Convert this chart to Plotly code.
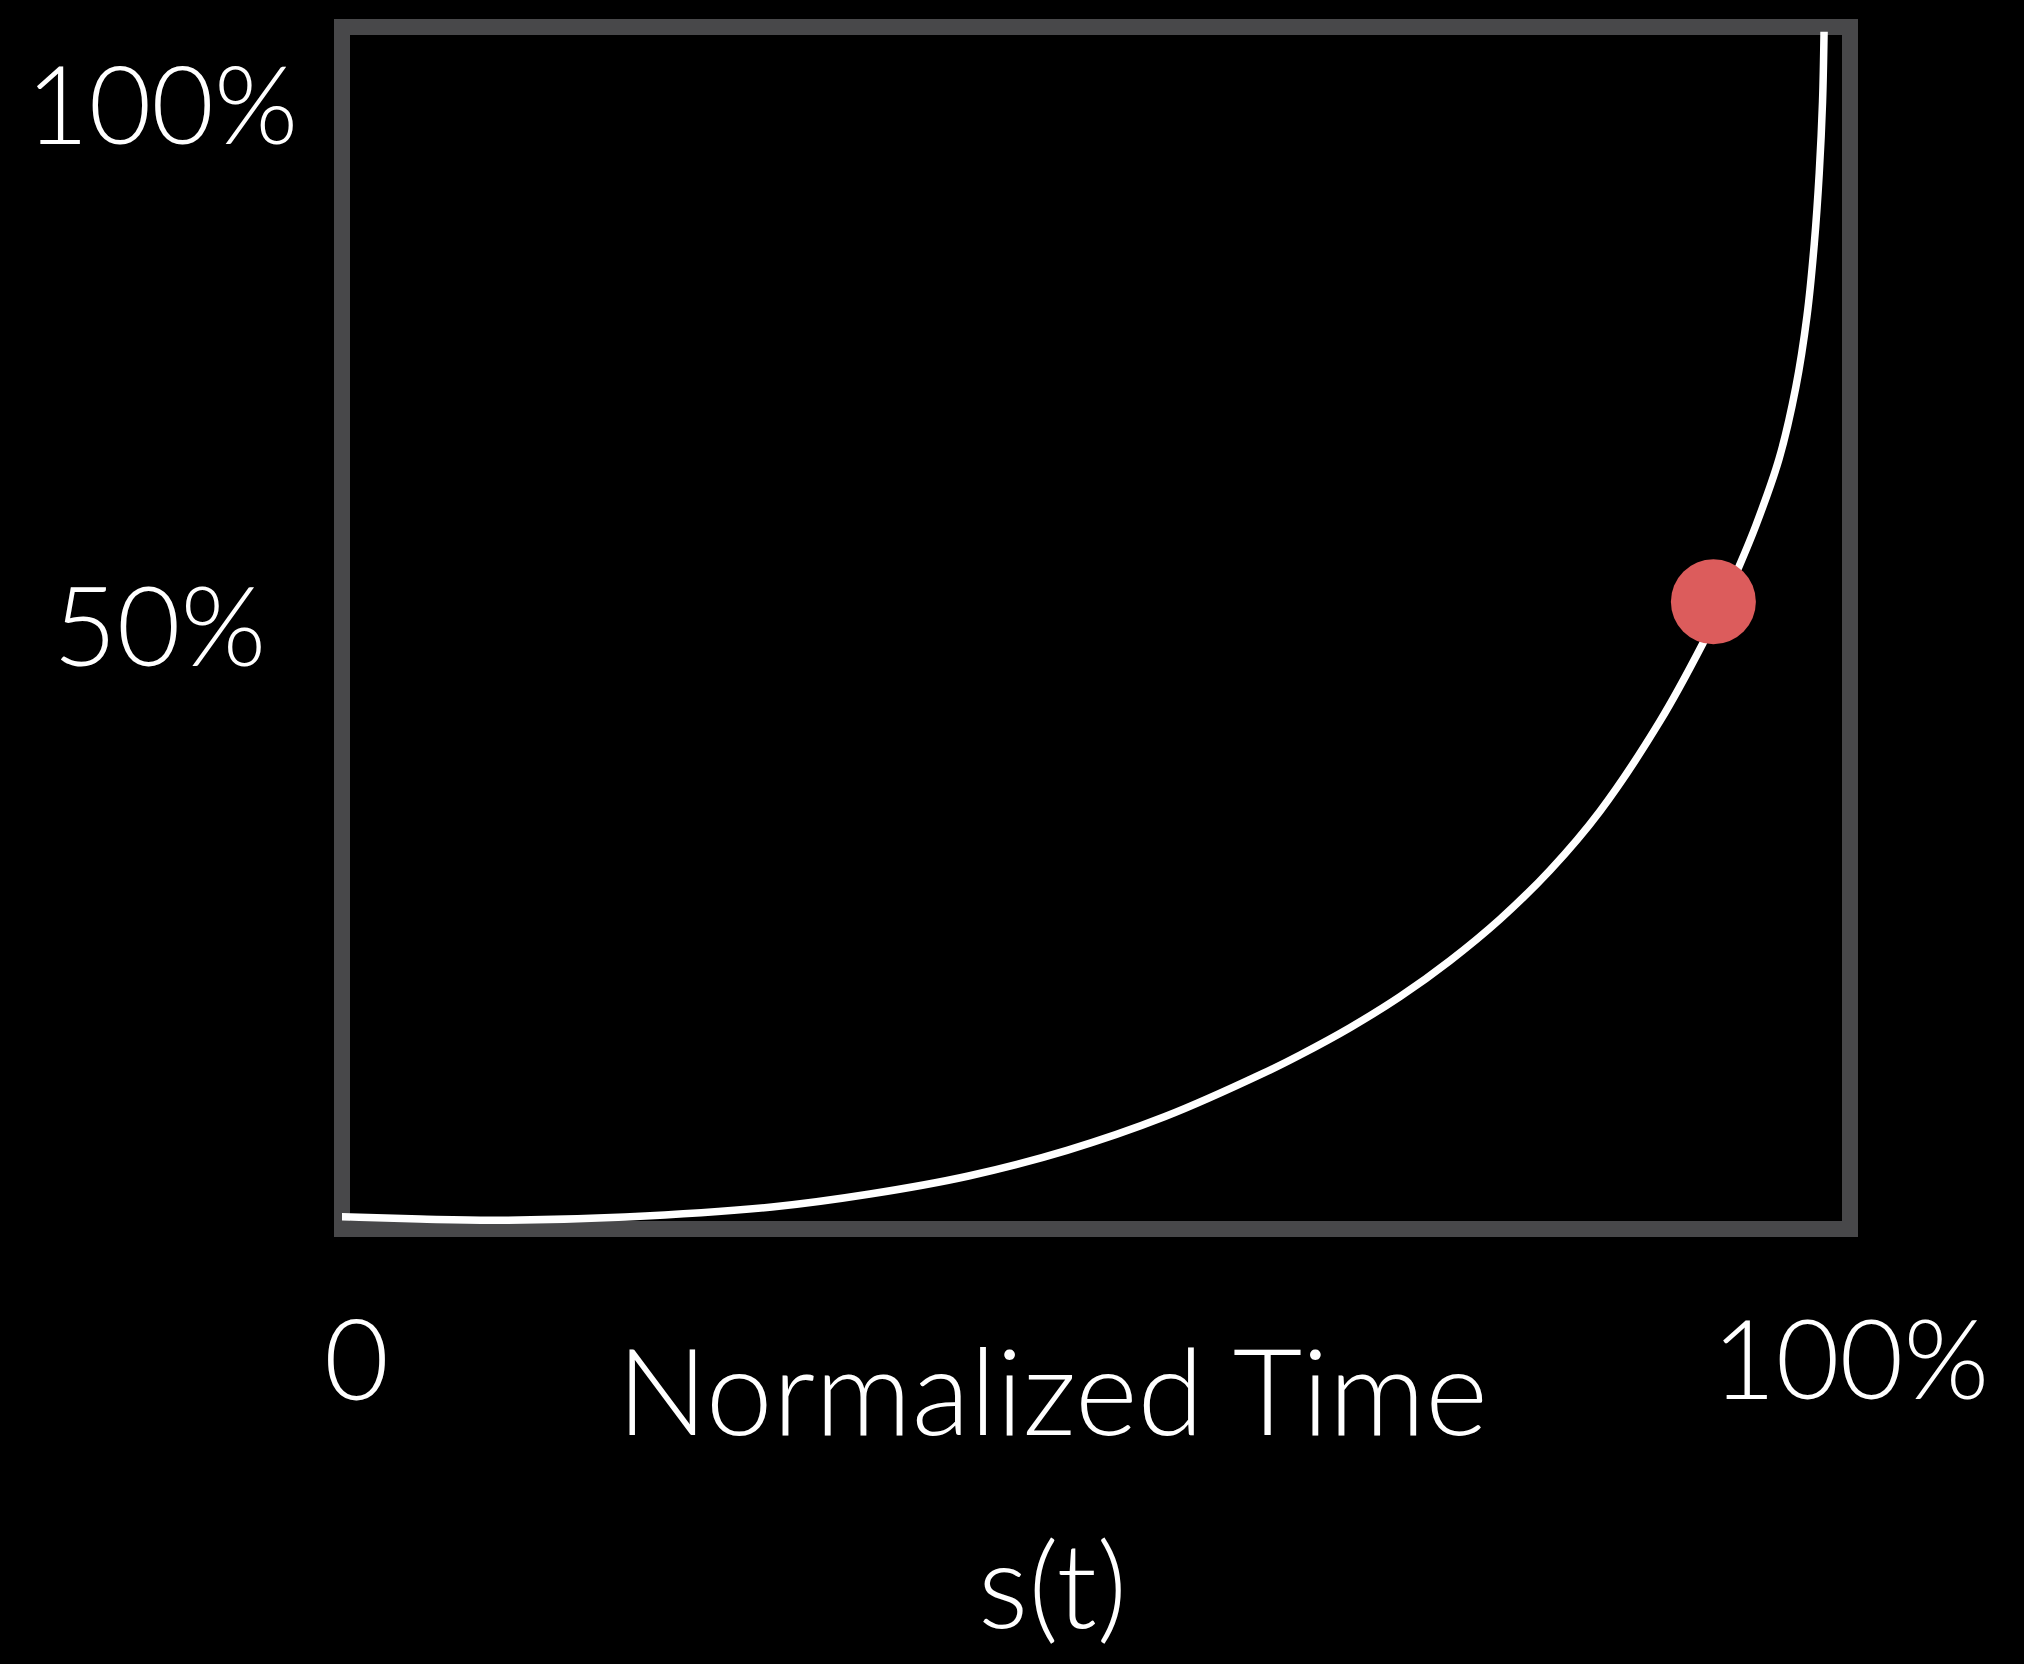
import plotly.graph_objects as go

# Curve s(t): normalized time (x) vs progress (y)
t_values = [-0.0013, 0.0517, 0.1028, 0.1877, 0.2851, 0.3501, 0.4155, 0.4808,
            0.5458, 0.6107, 0.6353, 0.6684, 0.7016, 0.7347, 0.7679, 0.8011,
            0.8342, 0.8740, 0.9024, 0.9155, 0.9267, 0.9377, 0.9530, 0.9641,
            0.9715, 0.9763, 0.9796, 0.9818, 0.9828]
s_values = [0.0102, 0.0083, 0.0073, 0.0100, 0.0183, 0.0291, 0.0441, 0.0654,
            0.0935, 0.1294, 0.1448, 0.1675, 0.1933, 0.2232, 0.2577, 0.2985,
            0.3476, 0.4225, 0.4871, 0.5208, 0.5520, 0.5857, 0.6409, 0.7005,
            0.7598, 0.8195, 0.8786, 0.9381, 0.9960]

# Current position marker
dot_t = [0.9094]
dot_s = [0.5219]

# Labels
y_tick_labels = ["100%", "50%"]
x_tick_labels = ["0", "100%"]
x_title = "Normalized Time"
caption = "s(t)"

FONT = "Lato"
WHITE = "#ffffff"

fig = go.Figure()
fig.add_trace(go.Scatter(
    x=t_values, y=s_values, mode="lines",
    line=dict(color=WHITE, width=7.5, shape="spline", smoothing=1.0, simplify=False),
    hoverinfo="skip", showlegend=False,
))
fig.add_trace(go.Scatter(
    x=dot_t, y=dot_s, mode="markers",
    marker=dict(color="#dc5c5c", size=85, line=dict(width=0)),
    hoverinfo="skip", showlegend=False,
))

# Frame
fig.add_shape(type="rect", xref="paper", yref="paper", x0=0, x1=1, y0=0, y1=1,
              line=dict(color="#48484a", width=16), layer="below")

def label(text, x, y, size):
    fig.add_annotation(text=text, xref="paper", yref="paper", x=x, y=y,
                       xanchor="center", yanchor="middle", showarrow=False,
                       font=dict(family=FONT, size=size, color=WHITE, weight=300))

label(y_tick_labels[0], -0.1194, 0.938, 108)
label(y_tick_labels[1], -0.121, 0.504, 110)
label(x_tick_labels[0], 0.0093, -0.106, 112)
label(x_tick_labels[1], 1.0000, -0.106, 110)
label(x_title, 0.471, -0.1335, 120)
label(caption, 0.471, -0.294, 118)

fig.update_layout(
    width=2024, height=1664,
    margin=dict(l=342, r=174, t=27, b=435, pad=0),
    paper_bgcolor="#000000", plot_bgcolor="#000000",
    xaxis=dict(range=[0, 1], visible=False, fixedrange=True),
    yaxis=dict(range=[0, 1], visible=False, fixedrange=True),
    showlegend=False,
)

fig.write_html(
    "out.html",
    config={"displayModeBar": False},
    post_script="document.body.style.margin='0';document.body.style.background='#000';",
)
